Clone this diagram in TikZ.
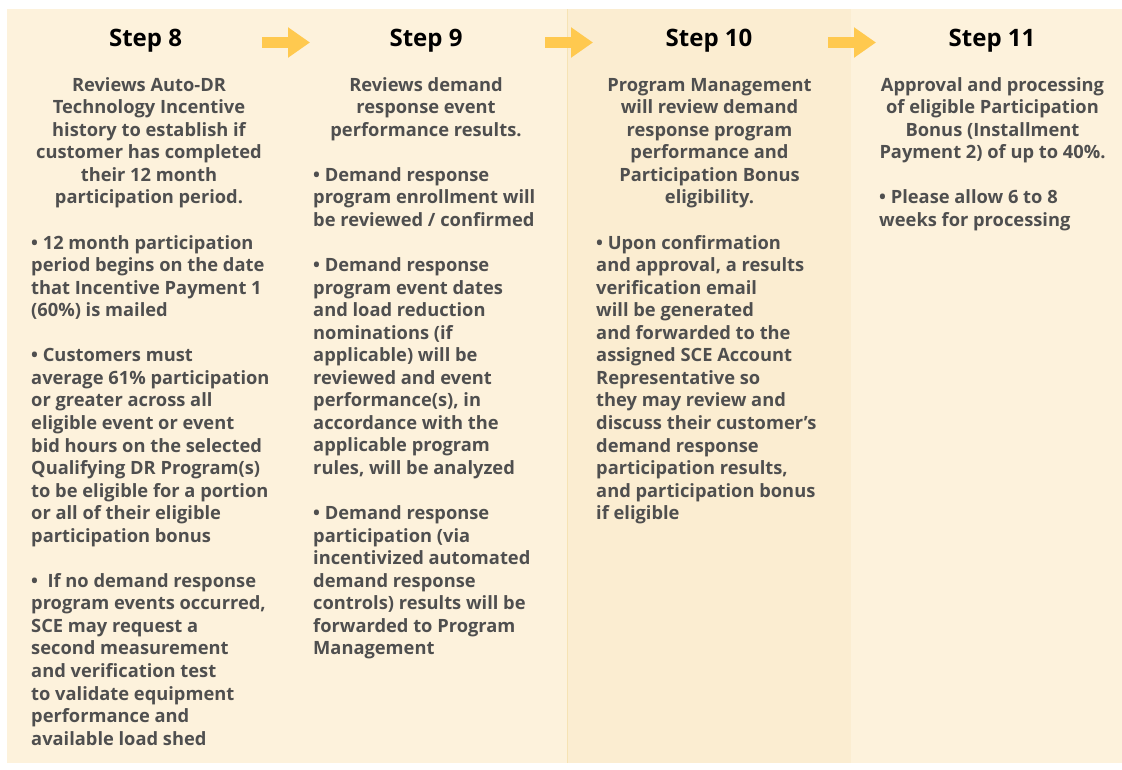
\documentclass[tikz,border=0pt]{standalone}
\usepackage{fontspec}
\setmainfont{Open Sans}
\usetikzlibrary{positioning,arrows.meta}
\definecolor{panelbg}{HTML}{FDF2DC}
\definecolor{panelmid}{HTML}{FBEDD1}
\definecolor{panelline}{HTML}{F6E3B4}
\definecolor{bodygray}{HTML}{4F4F4F}
\definecolor{arrowyellow}{HTML}{FFC94F}

\begin{document}
\begin{tikzpicture}[x=1pt,y=-1pt]
        \tikzstyle{steptitle} = [font=\fontsize{24}{28}\selectfont\bfseries, text=black, inner sep=0pt, anchor=base]
        \tikzstyle{headtext} = [font=\fontsize{18.3}{22.55}\selectfont\bfseries, text=bodygray, inner sep=0pt, align=center, anchor=north]
        \tikzstyle{bullettext} = [font=\fontsize{18.3}{22.55}\selectfont\bfseries, text=bodygray, inner sep=0pt, align=left, anchor=north west]
        \tikzstyle{steparrow} = [line width=11pt, arrowyellow, -{Triangle[width=29pt,length=22pt]}]

        \useasboundingbox (0,0) rectangle (1122,769);
        \fill[white] (0,0) rectangle (1122,769);
        \fill[panelbg] (7,9) rectangle (1122,763);
        \fill[panelmid] (567,9) rectangle (851,763);
        \draw[panelline, line width=0.8pt] (567.5,9) -- (567.5,763);

        \node (title8) [steptitle] at (145.5,46) {Step 8};
        \node (title9) [steptitle] at (426,46) {Step 9};
        \node (title10) [steptitle] at (709,46) {Step 10};
        \node (title11) [steptitle] at (992,46) {Step 11};

        \coordinate (arr1s) at (262,42.5);
        \coordinate (arr1e) at (310,42.5);
        \coordinate (arr2s) at (545,42.5);
        \coordinate (arr2e) at (593,42.5);
        \coordinate (arr3s) at (828,42.5);
        \coordinate (arr3e) at (876,42.5);
        \draw [steparrow] (arr1s) -- (arr1e);
        \draw [steparrow] (arr2s) -- (arr2e);
        \draw [steparrow] (arr3s) -- (arr3e);

        \node (head8) [headtext] at (149,75.2) {\strut Reviews Auto-DR\\ Technology Incentive\\ history to establish if\\ customer has completed\\ their 12 month\\ participation period.};
        \node (list8) [bullettext] at (31,233.1) {\strut • 12 month participation\\ period begins on the date\\ that Incentive Payment 1\\ (60\%) is mailed\\[22.55pt]
        • Customers must\\ average 61\% participation\\ or greater across all\\ eligible event or event\\ bid hours on the selected\\ Qualifying DR Program(s)\\ to be eligible for a portion\\ or all of their eligible\\ participation bonus\\[22.55pt]
        •\ \ If no demand response\\ program events occurred,\\ SCE may request a\\ second measurement\\ and verification test\\ to validate equipment\\ performance and\\ available load shed};

        \node (head9) [headtext] at (426,75.2) {\strut Reviews demand\\ response event\\ performance results.};
        \node (list9) [bullettext] at (313,165.4) {\strut • Demand response\\ program enrollment will\\ be reviewed / confirmed\\[22.55pt]
        • Demand response\\ program event dates\\ and load reduction\\ nominations (if\\ applicable) will be\\ reviewed and event\\ performance(s), in\\ accordance with the\\ applicable program\\ rules, will be analyzed\\[22.55pt]
        • Demand response\\ participation (via\\ incentivized automated\\ demand response\\ controls) results will be\\ forwarded to Program\\ Management};

        \node (head10) [headtext] at (709.5,75.2) {\strut Program Management\\ will review demand\\ response program\\ performance and\\ Participation Bonus\\ eligibility.};
        \node (list10) [bullettext] at (596,233.1) {\strut • Upon confirmation\\ and approval, a results\\ verification email\\ will be generated\\ and forwarded to the\\ assigned SCE Account\\ Representative so\\ they may review and\\ discuss their customer’s\\ demand response\\ participation results,\\ and participation bonus\\ if eligible};

        \node (head11) [headtext] at (992.5,75.2) {\strut Approval and processing\\ of eligible Participation\\ Bonus (Installment\\ Payment 2) of up to 40\%.};
        \node (list11) [bullettext] at (879,188) {\strut • Please allow 6 to 8\\ weeks for processing};
    \end{tikzpicture}
\end{document}
